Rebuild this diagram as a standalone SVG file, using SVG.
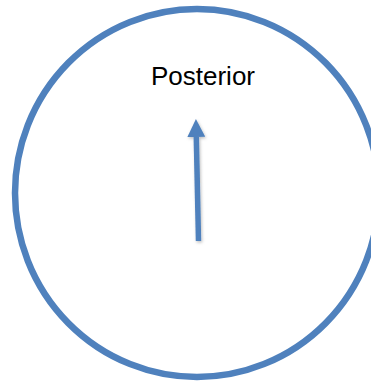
<svg xmlns="http://www.w3.org/2000/svg" width="371" height="381" viewBox="0 0 371 381">
  <style>
    .ring { fill: none; stroke: #4F81BD; stroke-width: 6.5; }
    .arrow { fill: none; stroke: #4F81BD; stroke-width: 5.5; }
    .label { font-family: "Liberation Sans", Arial, sans-serif; font-size: 26px; fill: #000000; }
  </style>
  <defs>
    <marker id="head" markerUnits="userSpaceOnUse" markerWidth="18" markerHeight="18" viewBox="0 0 16 16" refX="0" refY="8" orient="auto">
      <path d="M0,0 L16,8 L0,16 Z" fill="#4F81BD"/>
    </marker>
    <filter id="shadow" filterUnits="userSpaceOnUse" x="170" y="100" width="60" height="160">
      <feDropShadow dx="1" dy="1.5" stdDeviation="1.5" flood-color="#000000" flood-opacity="0.25"/>
    </filter>
  </defs>
  <g id="posterior">
    <ellipse class="ring" cx="197" cy="193" rx="182" ry="184"/>
    <text class="label" x="203" y="85" text-anchor="middle">Posterior</text>
  </g>
  <g id="connectors">
    <line class="arrow" x1="198.5" y1="241" x2="196.3" y2="137" marker-end="url(#head)" filter="url(#shadow)"/>
  </g>
</svg>
